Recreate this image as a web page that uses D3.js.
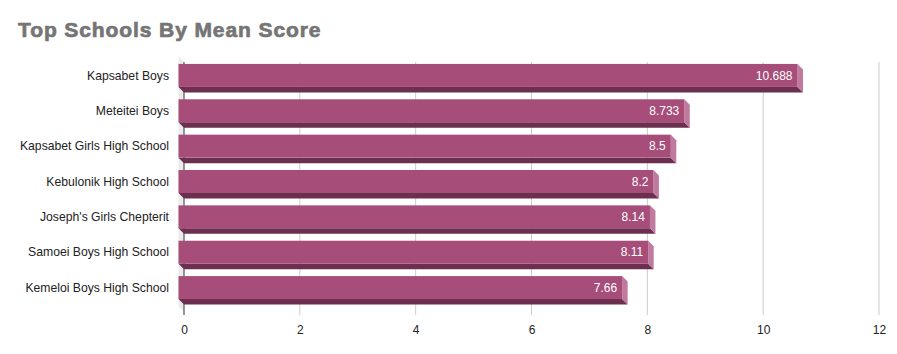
<!DOCTYPE html>
<html>
<head>
<meta charset="utf-8">
<script src="https://cdn.jsdelivr.net/npm/d3@7"></script>
<style>
  body { margin: 0; background: #fff; }
  text { font-family: "Liberation Sans", Arial, sans-serif; }
</style>
</head>
<body>
<div id="chart"></div>
<script>
var schools = ['Kapsabet Boys', 'Meteitei Boys', 'Kapsabet Girls High School', 'Kebulonik High School',
               "Joseph's Girls Chepterit", 'Samoei Boys High School', 'Kemeloi Boys High School'];
var scores = [10.688, 8.733, 8.5, 8.2, 8.14, 8.11, 7.66];
var ticks = [0, 2, 4, 6, 8, 10, 12];

var width = 897, height = 354;
var depth = 5.5; // 3d offset, front face sits up-left of back face

var svg = d3.select('#chart').append('svg')
    .attr('width', width)
    .attr('height', height);

svg.append('text')
    .attr('x', 18)
    .attr('y', 36.5)
    .attr('fill', '#757575')
    .attr('stroke', '#757575')
    .attr('stroke-width', 0.7)
    .attr('font-size', 21)
    .attr('font-weight', 'bold')
    .attr('letter-spacing', 0.9)
    .text('Top Schools By Mean Score');

var x = d3.scaleLinear()
    .domain([0, 12])
    .range([184, 879]);

var y = d3.scaleBand()
    .domain(schools)
    .range([62, 312])
    .paddingInner(0.35)
    .paddingOuter(0.21);

// left wall
svg.append('polygon')
    .attr('points', [[x(0), 62], [x(0) - depth, 62 - depth], [x(0) - depth, 312 - depth], [x(0), 312]].join(' '))
    .attr('fill', '#ebebeb');

// gridlines
svg.append('g')
    .selectAll('line')
    .data(ticks.slice(1))
    .join('line')
    .attr('x1', d => x(d)).attr('x2', d => x(d))
    .attr('y1', 62).attr('y2', 315)
    .attr('stroke', '#cccccc');

svg.append('line')
    .attr('x1', x(0)).attr('x2', x(0))
    .attr('y1', 62).attr('y2', 315)
    .attr('stroke', '#333');

// bottom axis labels
var xAxis = svg.append('g')
    .attr('transform', 'translate(0,315)')
    .call(d3.axisBottom(x).tickValues(ticks).tickSize(0).tickPadding(10));
xAxis.select('.domain').remove();
xAxis.selectAll('text')
    .attr('font-size', 12)
    .attr('fill', '#222')
    .style('font-family', '"Liberation Sans", Arial, sans-serif');

var bars = svg.append('g')
    .selectAll('g')
    .data(schools)
    .join('g');

// bottom face
bars.append('polygon')
    .attr('points', (d, i) => {
        var y1 = y(d) + y.bandwidth() - depth;
        var xr = x(scores[i]);
        return [[x(0) - depth, y1], [xr - depth, y1], [xr, y1 + depth], [x(0), y1 + depth]].join(' ');
    })
    .attr('fill', '#6d2f4f');

// right face
bars.append('polygon')
    .attr('points', (d, i) => {
        var y0 = y(d) - depth, xr = x(scores[i]);
        return [[xr - depth, y0], [xr, y0 + depth], [xr, y0 + depth + y.bandwidth()], [xr - depth, y0 + y.bandwidth()]].join(' ');
    })
    .attr('fill', '#c07a9e');

// front face
bars.append('rect')
    .attr('x', x(0) - depth)
    .attr('y', d => y(d) - depth)
    .attr('width', (d, i) => x(scores[i]) - x(0))
    .attr('height', y.bandwidth())
    .attr('fill', '#a64d79');

bars.append('text')
    .attr('x', (d, i) => x(scores[i]) - depth - 5)
    .attr('y', d => y(d) - depth + y.bandwidth() / 2)
    .attr('dy', '0.35em')
    .attr('text-anchor', 'end')
    .attr('font-size', 12)
    .attr('fill', '#fff')
    .text((d, i) => scores[i]);

bars.append('text')
    .attr('x', 169)
    .attr('y', d => y(d) - depth + y.bandwidth() / 2)
    .attr('dy', '0.35em')
    .attr('text-anchor', 'end')
    .attr('font-size', 12.2)
    .attr('fill', '#222')
    .text(d => d);
</script>
</body>
</html>
